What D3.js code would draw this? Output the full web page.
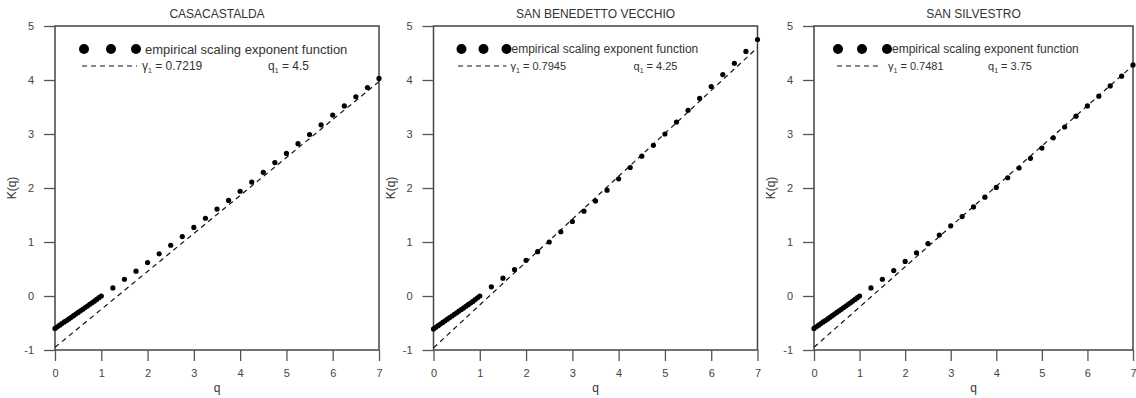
<!DOCTYPE html>
<html>
<head>
<meta charset="utf-8">
<script src="https://cdn.jsdelivr.net/npm/d3@7"></script>
<style>
  body { margin: 0; background: #fff; }
  svg { display: block; }
</style>
</head>
<body>
<script>
// station names (panel titles)
const stations = ["CASACASTALDA", "SAN BENEDETTO VECCHIO", "SAN SILVESTRO"];

// moment orders q: dense run 0..1 then coarse 1.25..7
const qDense = [0, 0.05, 0.1, 0.15, 0.2, 0.25, 0.3, 0.35, 0.4, 0.45, 0.5,
  0.55, 0.6, 0.65, 0.7, 0.75, 0.8, 0.85, 0.9, 0.95, 1];
const qCoarse = [1.25, 1.5, 1.75, 2, 2.25, 2.5, 2.75, 3, 3.25, 3.5, 3.75, 4,
  4.25, 4.5, 4.75, 5, 5.25, 5.5, 5.75, 6, 6.25, 6.5, 6.75, 7];

// empirical K(q), one list per station
const kDenseCasa = [-0.60, -0.57, -0.54, -0.51, -0.48, -0.455, -0.425, -0.395, -0.365, -0.335, -0.305,
  -0.275, -0.245, -0.215, -0.185, -0.155, -0.125, -0.095, -0.063, -0.031, 0];
const kCoarseCasa = [0.15, 0.31, 0.46, 0.62, 0.78, 0.94, 1.10, 1.27, 1.44, 1.61, 1.77, 1.94,
  2.11, 2.29, 2.47, 2.64, 2.82, 2.99, 3.17, 3.35, 3.52, 3.69, 3.86, 4.03];

const kDenseBen = [-0.61, -0.58, -0.55, -0.52, -0.49, -0.46, -0.43, -0.40, -0.37, -0.34, -0.31,
  -0.28, -0.25, -0.22, -0.19, -0.16, -0.13, -0.10, -0.066, -0.033, 0];
const kCoarseBen = [0.17, 0.33, 0.49, 0.66, 0.82, 1.00, 1.19, 1.38, 1.57, 1.76, 1.96, 2.17,
  2.38, 2.59, 2.79, 3.00, 3.22, 3.44, 3.66, 3.88, 4.10, 4.31, 4.53, 4.75];

const kDenseSil = [-0.60, -0.57, -0.54, -0.51, -0.48, -0.455, -0.425, -0.395, -0.365, -0.335, -0.305,
  -0.275, -0.245, -0.215, -0.185, -0.155, -0.125, -0.094, -0.063, -0.031, 0];
const kCoarseSil = [0.15, 0.31, 0.47, 0.64, 0.80, 0.97, 1.13, 1.30, 1.47, 1.65, 1.83, 2.01,
  2.19, 2.37, 2.55, 2.74, 2.93, 3.13, 3.33, 3.52, 3.70, 3.89, 4.07, 4.28];

const kDense = [kDenseCasa, kDenseBen, kDenseSil];
const kCoarse = [kCoarseCasa, kCoarseBen, kCoarseSil];

// asymptotic fit (dashed) end points and legend numbers
const fitQ = [0, 7];
const fitK = [[-0.95, 3.97], [-0.96, 4.60], [-0.95, 4.27]];
const gamma1 = ["0.7219", "0.7945", "0.7481"];
const qOne = ["4.5", "4.25", "3.75"];

const xTicks = [0, 1, 2, 3, 4, 5, 6, 7];
const yTicks = [-1, 0, 1, 2, 3, 4, 5];

const W = 1136, H = 398;
const panelLeft = [55, 433.5, 814];
const panelWidth = [324, 324, 319];
const plotTop = 26, plotBottom = 350;

// legend layout, relative to the panel's left edge
const legendLayout = [
  { dots: [29, 56, 81], text: 90, dash: [27, 82], g: 87, q: 213, fs: 13 },
  { dots: [28, 50, 73], text: 78, dash: [24.5, 73], g: 77, q: 200, fs: 12 },
  { dots: [24, 48, 73], text: 78, dash: [23, 68], g: 74, q: 174, fs: 12 },
];

const svg = d3.select("body").append("svg")
  .attr("width", W)
  .attr("height", H)
  .style("font-family", "'Liberation Sans', Arial, sans-serif");

const y = d3.scaleLinear().domain([-1, 5]).range([plotBottom, plotTop]);

stations.forEach((name, i) => {
  const x0 = panelLeft[i];
  const panelW = panelWidth[i];
  const x = d3.scaleLinear().domain([0, 7]).range([x0, x0 + panelW]);
  const g = svg.append("g");

  // frame
  g.append("rect")
    .attr("x", x0).attr("y", plotTop)
    .attr("width", panelW).attr("height", plotBottom - plotTop)
    .attr("fill", "none")
    .attr("stroke", "#444")
    .attr("stroke-width", 1.5);

  // axes
  const ax = g.append("g")
    .attr("transform", `translate(0,${plotBottom})`)
    .call(d3.axisBottom(x).tickValues(xTicks).tickSize(11).tickPadding(8)
      .tickFormat((d) => String(d)));
  const ay = g.append("g")
    .attr("transform", `translate(${x0},0)`)
    .call(d3.axisLeft(y).tickValues(yTicks).tickSize(11).tickPadding(10)
      .tickFormat((d) => String(d)));
  [ax, ay].forEach((a) => {
    a.select(".domain").remove();
    a.selectAll(".tick line").attr("stroke", "#555").attr("stroke-width", 1.3);
    a.selectAll(".tick text")
      .attr("fill", "#444")
      .style("font-size", "11px")
      .style("font-family", "'Liberation Sans', Arial, sans-serif");
  });

  // titles and labels
  g.append("text")
    .attr("x", x0 + panelW / 2).attr("y", 18)
    .attr("text-anchor", "middle")
    .attr("fill", "#333")
    .style("font-size", "12px")
    .text(name);
  g.append("text")
    .attr("x", x0 + panelW / 2).attr("y", 392)
    .attr("text-anchor", "middle")
    .attr("fill", "#333")
    .style("font-size", "12px")
    .text("q");
  g.append("text")
    .attr("transform", `translate(${x0 - 39},${(plotTop + plotBottom) / 2}) rotate(-90)`)
    .attr("text-anchor", "middle")
    .attr("fill", "#333")
    .style("font-size", "12px")
    .text("K(q)");

  // dashed fit line
  const line = d3.line().x((d) => x(d[0])).y((d) => y(d[1]));
  g.append("path")
    .datum(fitQ.map((q, j) => [q, fitK[i][j]]))
    .attr("d", line)
    .attr("fill", "none")
    .attr("stroke", "#111")
    .attr("stroke-width", 1.2)
    .attr("stroke-dasharray", "5,4");

  // empirical points
  const pts = qDense.map((q, j) => [q, kDense[i][j]])
    .concat(qCoarse.map((q, j) => [q, kCoarse[i][j]]));
  g.append("g")
    .selectAll("circle")
    .data(pts)
    .join("circle")
    .attr("cx", (d) => x(d[0]))
    .attr("cy", (d) => y(d[1]))
    .attr("r", 2.6)
    .attr("fill", "#000");

  // legend
  const L = legendLayout[i];
  const lg = g.append("g").attr("transform", `translate(${x0},${plotTop})`);
  lg.selectAll("circle")
    .data(L.dots)
    .join("circle")
    .attr("cx", (d) => d)
    .attr("cy", 23)
    .attr("r", 5)
    .attr("fill", "#000");
  lg.append("text")
    .attr("x", L.text).attr("y", 23).attr("dy", "0.35em")
    .attr("fill", "#333")
    .style("font-size", L.fs + "px")
    .text("empirical scaling exponent function");
  lg.append("line")
    .attr("x1", L.dash[0]).attr("x2", L.dash[1])
    .attr("y1", 40).attr("y2", 40)
    .attr("stroke", "#111")
    .attr("stroke-width", 1.2)
    .attr("stroke-dasharray", "5,4");
  const gt = lg.append("text")
    .attr("x", L.g).attr("y", 40).attr("dy", "0.35em")
    .attr("fill", "#333")
    .style("font-size", (L.fs - 1) + "px");
  gt.append("tspan").text("γ");
  gt.append("tspan").attr("dy", 3).style("font-size", "7px").text("1");
  gt.append("tspan").attr("dy", -3).text(" = " + gamma1[i]);
  const qt = lg.append("text")
    .attr("x", L.q).attr("y", 40).attr("dy", "0.35em")
    .attr("fill", "#333")
    .style("font-size", (L.fs - 1) + "px");
  qt.append("tspan").text("q");
  qt.append("tspan").attr("dy", 3).style("font-size", "7px").text("1");
  qt.append("tspan").attr("dy", -3).text(" = " + qOne[i]);
});
</script>
</body>
</html>
